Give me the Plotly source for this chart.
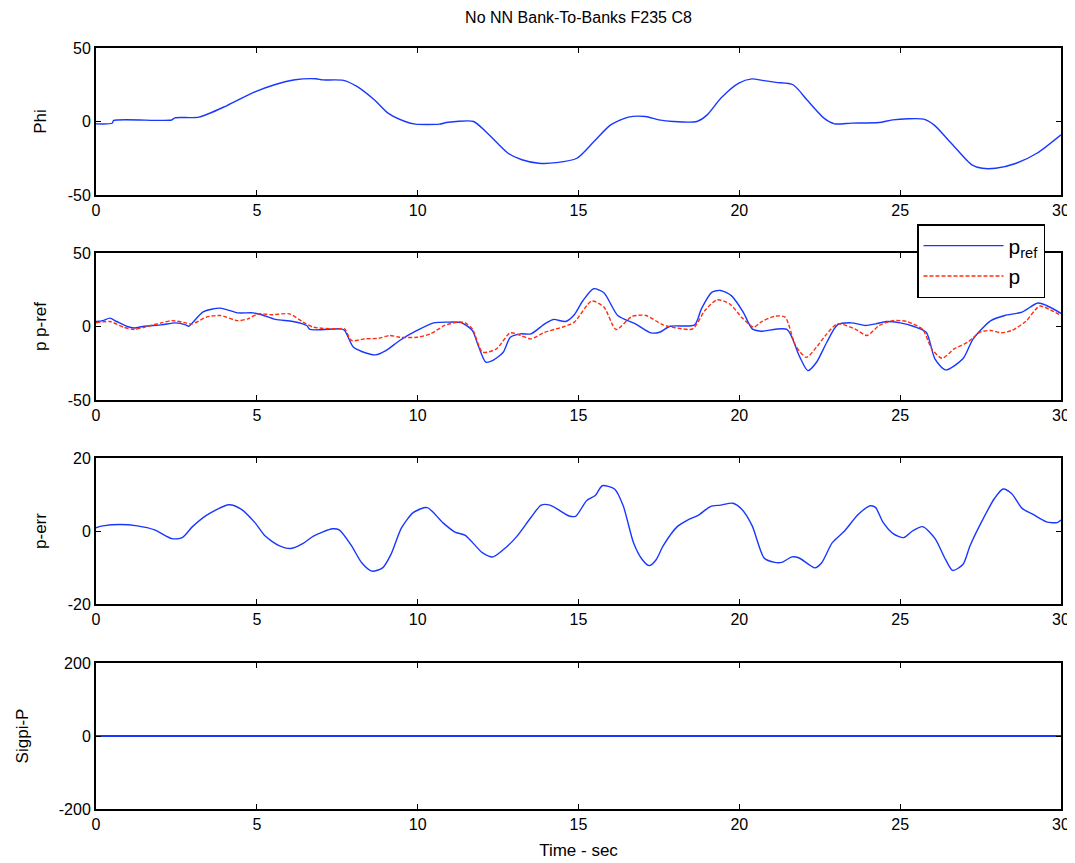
import plotly.graph_objects as go
from plotly.subplots import make_subplots

# ---------------- data ----------------
t_phi = [0, 0.5, 0.55, 2.35, 2.45, 3.2, 4.06, 4.9, 5.55, 6.19, 6.83, 7.05, 7.69, 8.11, 8.65,
         9.08, 9.61, 9.93, 10.68, 10.89, 11.2, 11.74, 12.17, 12.81, 13.24, 13.77, 14.31, 14.95,
         15.48, 16.0, 16.55, 17.08, 17.5, 17.94, 18.68, 19.0, 19.43, 19.97, 20.39, 20.71, 21.14,
         21.67, 22.1, 22.63, 22.96, 23.49, 24.34, 24.77, 25.73, 26.05, 26.59, 27.23, 27.55,
         27.97, 28.61, 29.25, 30]
phi = [-1.6, -1.2, 0.7, 1.0, 2.5, 3.0, 10.7, 19.8, 25, 28.4, 29.1, 28.3, 28, 23.9, 14.8,
       5.7, 0, -1.8, -1.8, -0.7, 0, 0, -8, -21.6, -26, -28.4, -28, -25,
       -13.6, -2.3, 3, 3.4, 1.1, 0, 0, 4.5, 16, 26, 29, 28, 26.6,
       25, 14.8, 2.3, -1.6, -1.1, -0.7, 1.1, 1.6, -2.3, -14.8, -29.5, -31.8,
       -31.8, -28.4, -21.6, -9]

t_pref = [0, 0.21, 0.43, 0.64, 0.97, 1.18, 1.5, 2.04, 2.47, 2.79, 2.88, 3.0, 3.33, 3.86, 4.4,
          4.88, 5.15, 5.58, 6.12, 6.55, 6.65, 7.62, 7.73, 8.0, 8.26, 8.69, 9.01, 9.44, 9.98,
          10.5, 10.94, 11.37, 11.7, 11.9, 12.12, 12.34, 12.66, 12.88, 13.2, 13.52, 13.95,
          14.22, 14.6, 14.87, 15.14, 15.47, 15.79, 16.22, 16.77, 17.25, 17.52, 17.85, 18.61,
          18.82, 19.15, 19.42, 19.75, 20.12, 20.4, 20.67, 21.48, 21.86, 22.13, 22.4, 22.72,
          23.05, 23.48, 23.92, 24.24, 24.57, 25.0, 25.43, 25.81, 26.08, 26.41, 26.95, 27.27,
          27.82, 28.25, 28.79, 29.28, 29.55, 30]
pref = [3.4, 4, 5.7, 3.4, 0, -1, 0.2, 1.1, 2.5, 1.1, 0.2, 2.5, 10, 12.5, 9.3,
        9.3, 8, 4.8, 3.4, 0.7, -2, -1.6, -2.7, -14, -17, -19.3, -16.4, -9.5, -2.7,
        2.5, 3, 2.5, -2.7, -14, -24.3, -23, -17.5, -7.3, -5, -5, 1.8,
        4.8, 3.4, 8, 17.7, 25.7, 23, 7.5, 1.8, -4.3, -3.9, 0.2, 1.1,
        12, 23.4, 24.5, 21, 9.8, -1.6, -3.2, -2, -19.8, -30, -24.3, -10.7,
        1.1, 2.5, 0.7, 1.8, 3.4, 2.5, 0, -3.9, -22, -29.5, -22, -8.4,
        4, 7.5, 9.8, 16, 14.3, 9]

t_p = [0, 0.43, 0.86, 1.18, 1.5, 2.04, 2.36, 2.79, 3.0, 3.43, 3.86, 4.4, 4.72, 5.04, 5.47,
       6.01, 6.44, 6.76, 7.51, 7.73, 7.94, 8.37, 8.8, 9.12, 9.44, 9.98, 10.4, 10.84, 11.27,
       11.48, 11.7, 12.02, 12.45, 12.88, 13.2, 13.52, 13.95, 14.49, 14.87, 15.41, 15.79,
       16.17, 16.66, 17.09, 17.63, 18.07, 18.55, 18.93, 19.31, 19.69, 20.12, 20.45, 20.67,
       21.1, 21.42, 21.75, 22.08, 22.4, 22.72, 23.05, 23.59, 23.97, 24.35, 24.78, 25.21,
       25.7, 25.98, 26.3, 26.68, 27.1, 27.48, 27.82, 28.14, 28.47, 28.9, 29.34, 29.77, 30]
p = [2.5, 3.4, -0.5, -2, -0.5, 2.5, 4, 2.5, 1.8, 6.4, 7.5, 4, 5.2, 8.6, 8,
     8.6, 3, -0.5, -1.6, -1.6, -9.5, -8.4, -8, -6.1, -7.3, -7.3, -5, 0.7, 3,
     2.5, -1.6, -17.5, -15.2, -4.3, -6.1, -8.4, -3.9, -0.5, 3, 17.3, 13.2,
     -2, 6.8, 7.5, 1.1, -1.1, -1.6, 10.9, 18.2, 15.5, 5.2, -0.5, 3,
     7, 6.4, -13, -21, -14, -5, 1.8, -1.6, -6.1, 0.7, 4, 3.4,
     -2, -15.2, -21.6, -15.2, -10.7, -3.9, -2.7, -4.3, -2.7, 3.4, 13.9, 10.2, 7.5]

t_perr = [0, 0.21, 0.75, 1.29, 1.82, 2.36, 2.68, 3.0, 3.43, 4.13, 4.51, 4.94, 5.26, 5.69,
          6.06, 6.44, 6.76, 7.35, 7.56, 7.94, 8.26, 8.58, 8.91, 9.17, 9.5, 9.87, 10.3, 10.78,
          11.16, 11.48, 12.02, 12.34, 12.77, 13.09, 13.52, 13.84, 14.11, 14.49, 14.71, 14.92,
          15.25, 15.52, 15.74, 16.12, 16.39, 16.71, 16.98, 17.2, 17.42, 17.63, 18.07, 18.39,
          18.72, 19.1, 19.42, 19.8, 20.07, 20.4, 20.77, 21.1, 21.32, 21.64, 21.86, 22.35,
          22.56, 22.89, 23.27, 23.7, 24.08, 24.24, 24.46, 24.78, 25.11, 25.38, 25.7, 26.08,
          26.41, 26.63, 26.95, 27.17, 27.49, 27.93, 28.2, 28.47, 28.79, 29.12, 29.55, 29.88, 30]
perr = [0.9, 1.4, 1.8, 1.4, 0.3, -2.1, -1.8, 1.2, 4.3, 7.2, 6, 2.3, -1.4, -4,
        -4.8, -3.4, -1.4, 0.6, 0.3, -4, -8.7, -11, -10.1, -6.4, 0.9, 5.1, 6.4, 2.3,
        -0.3, -1.2, -6, -7.1, -4.3, -1.4, 3.7, 7.1, 7.1, 5.2, 4.1, 4.1,
        8.3, 9.7, 12.4, 11.5, 6.9, -3.2, -7.8, -9.5, -7.8, -4.1, 1.2, 3,
        4.3, 6.7, 7.1, 7.6, 6, 1.4, -7.4, -8.6, -8.6, -7.1, -7.4, -10.1,
        -8.7, -3.2, 0, 4.6, 6.9, 6.4, 2.5, -0.7, -1.8, 0, 1.2, -2,
        -7.8, -10.8, -9.2, -4.1, 1.8, 8.9, 11.5, 10.2, 6.2, 4.6, 2.5, 2.3, 3]

t_sig = [0, 30]
sig = [0, 0]

x_ticks = [0, 5, 10, 15, 20, 25, 30]
x_ticktext = ["0", "5", "10", "15", "20", "25", "30"]
y_ticks = [[-50, 0, 50], [-50, 0, 50], [-20, 0, 20], [-200, 0, 200]]
y_ticktext = [["-50", "0", "50"], ["-50", "0", "50"], ["-20", "0", "20"], ["-200", "0", "200"]]
y_ranges = [[-50, 50], [-50, 50], [-20, 20], [-200, 200]]
y_titles = ["Phi", "p p-ref", "p-err", "Sigpi-P"]

BLUE = "rgb(25,55,255)"
RED = "rgb(255,45,15)"
FONT = "Liberation Sans, Arial, sans-serif"

fig = make_subplots(rows=4, cols=1, shared_xaxes=False)

LW = 1.4
SM = 0.7
fig.add_trace(go.Scatter(x=t_phi, y=phi, mode="lines",
                         line=dict(color=BLUE, width=LW, shape="spline", smoothing=SM),
                         showlegend=False), row=1, col=1)
fig.add_trace(go.Scatter(x=t_pref, y=pref, mode="lines", name="p<sub>ref</sub>",
                         line=dict(color=BLUE, width=LW, shape="spline", smoothing=SM)),
              row=2, col=1)
fig.add_trace(go.Scatter(x=t_p, y=p, mode="lines", name="p",
                         line=dict(color=RED, width=LW, dash="4px,2px", shape="spline",
                                   smoothing=SM)), row=2, col=1)
fig.add_trace(go.Scatter(x=t_perr, y=perr, mode="lines",
                         line=dict(color=BLUE, width=LW, shape="spline", smoothing=SM),
                         showlegend=False), row=3, col=1)
fig.add_trace(go.Scatter(x=t_sig, y=sig, mode="lines", line=dict(color=BLUE, width=1.8),
                         showlegend=False), row=4, col=1)

# page body adds an 8px offset; margins below compensate so the axes land where intended
OFF = 8
W, H = 1075, 863
top, bot = 48, 809
span = bot - top
boxes = [(48, 195), (253, 400), (458, 604), (663, 809)]
standoffs = [17, 17, 17, 26]
for i, (y0, y1) in enumerate(boxes):
    n = "" if i == 0 else str(i + 1)
    dom = [(bot - y1) / span, (bot - y0) / span]
    fig.layout["yaxis" + n].update(
        domain=dom, range=y_ranges[i], tickvals=y_ticks[i], ticktext=y_ticktext[i],
        ticks="inside", ticklen=5, tickcolor="black", tickwidth=1,
        showline=True, linecolor="black", linewidth=2, mirror="ticks",
        showgrid=False, zeroline=False,
        tickfont=dict(size=16, color="black", family=FONT),
        title=dict(text=y_titles[i], font=dict(size=17, color="black", family=FONT),
                   standoff=standoffs[i]),
    )
    fig.layout["xaxis" + n].update(
        range=[0, 30], tickvals=x_ticks, ticktext=x_ticktext,
        ticks="inside", ticklen=5, tickcolor="black", tickwidth=1,
        showline=True, linecolor="black", linewidth=2, mirror="ticks",
        showgrid=False, zeroline=False,
        tickfont=dict(size=16, color="black", family=FONT),
    )

fig.layout["xaxis4"].title = dict(text="Time - sec", font=dict(size=17, color="black", family=FONT),
                                  standoff=12)

fig.update_layout(
    width=W, height=H,
    margin=dict(l=96 - OFF, r=W - 1061 + OFF, t=top - OFF, b=H - bot + OFF),
    paper_bgcolor="white", plot_bgcolor="white",
    title=dict(text="No NN Bank-To-Banks F235 C8", x=(96 + 1061) / 2 / W - OFF / W,
               xanchor="center", y=1 - (17 - OFF) / H, yanchor="middle",
               font=dict(size=16, color="black", family=FONT)),
    legend=dict(x=(1045 - 96) / (1061 - 96), xanchor="right",
                y=(bot - 224) / span, yanchor="top",
                bgcolor="white", bordercolor="black", borderwidth=1.5,
                font=dict(size=21, color="black", family=FONT),
                itemwidth=80),
    font=dict(family=FONT, color="black"),
)

fig.write_html("out.html")
